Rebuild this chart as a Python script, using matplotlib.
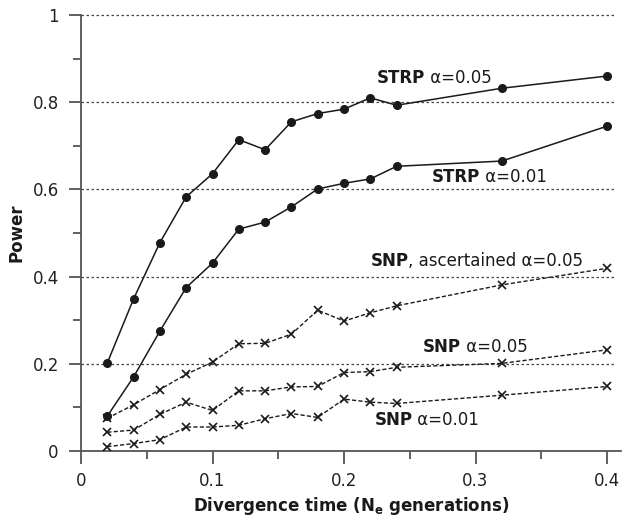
import matplotlib
matplotlib.use("Agg")
import matplotlib.pyplot as plt
from matplotlib.ticker import MultipleLocator, FuncFormatter

plt.rcParams['font.family'] = ['DejaVu Sans']

x = [0.02, 0.04, 0.06, 0.08, 0.10, 0.12, 0.14, 0.16, 0.18, 0.20, 0.22, 0.24, 0.32, 0.40]
strp_05 = [0.202, 0.349, 0.478, 0.583, 0.636, 0.714, 0.691, 0.755, 0.774, 0.784, 0.810, 0.793, 0.832, 0.860]
strp_01 = [0.080, 0.170, 0.275, 0.375, 0.431, 0.509, 0.525, 0.560, 0.601, 0.614, 0.624, 0.653, 0.665, 0.745]
snp_asc_05 = [0.075, 0.106, 0.141, 0.176, 0.204, 0.246, 0.247, 0.268, 0.323, 0.298, 0.317, 0.333, 0.381, 0.419]
snp_05 = [0.043, 0.048, 0.084, 0.112, 0.093, 0.138, 0.138, 0.147, 0.148, 0.180, 0.182, 0.192, 0.201, 0.232]
snp_01 = [0.010, 0.017, 0.026, 0.055, 0.055, 0.059, 0.074, 0.086, 0.077, 0.119, 0.112, 0.109, 0.128, 0.148]

labels = [
    ("STRP", " α=0.05"),
    ("STRP", " α=0.01"),
    ("SNP", ", ascertained α=0.05"),
    ("SNP", " α=0.05"),
    ("SNP", " α=0.01"),
]
label_pos = [(0.225, 0.855), (0.267, 0.628), (0.220, 0.436), (0.260, 0.239), (0.223, 0.071)]

fig = plt.figure(figsize=(6.22, 5.17), dpi=100)
ax = fig.add_axes([81/622, 66/517, 540/622, 436/517])
ax.set_xlim(0, 0.4106)
ax.set_ylim(0, 1.0)

for yv in [0.2, 0.4, 0.6, 0.8, 1.0]:
    ax.plot([0, 0.4068], [yv, yv], color='#444444', lw=0.9, ls=(0, (2, 2)), zorder=1, clip_on=False)

for s in [strp_05, strp_01]:
    ax.plot(x, s, color='#1a1a1a', lw=1.1, marker='o', ms=5.5, zorder=3, clip_on=False)
for s in [snp_asc_05, snp_05, snp_01]:
    ax.plot(x, s, color='#1a1a1a', lw=1.0, ls=(0, (3, 1.6)), marker='x', ms=5.5, mew=1.2, zorder=3, clip_on=False)

for (b, r), (lx, ly) in zip(labels, label_pos):
    t = ax.text(lx, ly, b, fontsize=12, fontweight='bold', color='#1a1a1a', va='center', ha='left')
    fig.canvas.draw()
    bb = t.get_window_extent()
    inv = ax.transData.inverted()
    xr = inv.transform((bb.x1, 0))[0]
    ax.text(xr, ly, r, fontsize=12, color='#1a1a1a', va='center', ha='left')

for sp in ['top', 'right']:
    ax.spines[sp].set_visible(False)
for sp in ['left', 'bottom']:
    ax.spines[sp].set_color('#555555')
    ax.spines[sp].set_linewidth(1.3)

ax.xaxis.set_major_locator(MultipleLocator(0.1))
ax.xaxis.set_minor_locator(MultipleLocator(0.05))
ax.yaxis.set_major_locator(MultipleLocator(0.2))
ax.yaxis.set_minor_locator(MultipleLocator(0.1))
fmt = FuncFormatter(lambda v, p: ('%g' % round(v, 3)))
ax.xaxis.set_major_formatter(fmt)
ax.yaxis.set_major_formatter(fmt)
ax.tick_params(which='major', direction='out', length=9, width=1.3, color='#555555',
               labelsize=12, labelcolor='#222222', pad=6)
ax.tick_params(which='minor', direction='out', length=6, width=1.3, color='#555555')
ax.tick_params(axis='y', which='major', pad=7)

ax.set_xlabel('Divergence time (N$_\\mathbf{e}$ generations)', fontsize=12, fontweight='bold',
              color='#1a1a1a', labelpad=3.5)
ax.set_ylabel('Power', fontsize=12, fontweight='bold', color='#1a1a1a', labelpad=5)

fig.savefig('out.png', dpi=100)
